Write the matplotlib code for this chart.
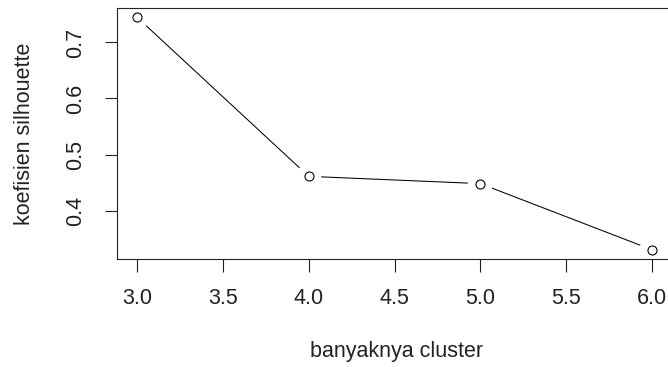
import matplotlib
matplotlib.use("Agg")
import matplotlib.pyplot as plt
import numpy as np

plt.rcParams['font.family'] = ['Liberation Sans', 'DejaVu Sans']

clusters = [3, 4, 5, 6]
silhouette = [0.745, 0.461, 0.448, 0.330]
x_ticks = [3.0, 3.5, 4.0, 4.5, 5.0, 5.5, 6.0]
y_ticks = [0.4, 0.5, 0.6, 0.7]

fig = plt.figure(figsize=(6.68, 3.67), dpi=100)
ax = fig.add_axes([116.5 / 668, 108 / 367, 556 / 668, 251 / 367])

# R style axis range: 4% padding
xmin, xmax = min(clusters), max(clusters)
ymin, ymax = min(silhouette), max(silhouette)
xp = (xmax - xmin) * 0.04
yp = (ymax - ymin) * 0.04
ax.set_xlim(xmin - xp, xmax + xp)
ax.set_ylim(ymin - yp, ymax + yp)

ax.plot(clusters, silhouette, linestyle='none', marker='o', markersize=6.5,
        markerfacecolor='white', markeredgecolor='black', markeredgewidth=0.8)

# type="b": segments with gaps around the points
fig.canvas.draw()
pts = ax.transData.transform(np.column_stack([clusters, silhouette]))
gap = 13
inv = ax.transData.inverted()
for i in range(len(pts) - 1):
    p0, p1 = pts[i], pts[i + 1]
    d = p1 - p0
    u = d / np.hypot(*d)
    a = inv.transform(p0 + u * gap)
    b = inv.transform(p1 - u * gap)
    ax.plot([a[0], b[0]], [a[1], b[1]], color='black', linewidth=0.75)

fs = 15.5
ax.set_xticks(x_ticks)
ax.set_xticklabels(["%.1f" % v for v in x_ticks])
ax.set_yticks(y_ticks)
ax.set_yticklabels(["%.1f" % v for v in y_ticks], rotation=90, va='center')
ax.tick_params(axis='both', direction='out', length=9, width=0.8, labelsize=fs,
               colors='#222222')
ax.tick_params(axis='x', pad=12)
ax.tick_params(axis='y', pad=13)
for s in ax.spines.values():
    s.set_linewidth(0.8)
    s.set_color('#222222')

ax.set_xlabel("banyaknya cluster", fontsize=fs, color='#222222', va='center')
ax.set_ylabel("koefisien silhouette", fontsize=fs, color='#222222', va='center')
ax.xaxis.set_label_coords(0.503, -0.37)
ax.yaxis.set_label_coords(-0.165, 0.498)

fig.savefig("out.png", dpi=100)
